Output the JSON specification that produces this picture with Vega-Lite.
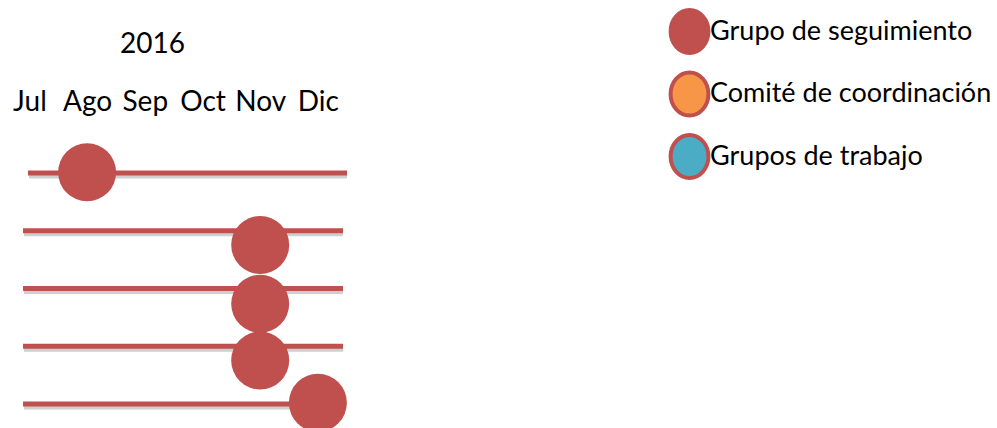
{
  "$schema": "https://vega.github.io/schema/vega-lite/v6.json",
  "autosize": {"type": "none"},
  "padding": {"left": 0, "top": 120, "right": 637, "bottom": 0},
  "width": 360,
  "height": 308,
  "background": "white",
  "config": {"view": {"stroke": null}, "font": "Lato"},
  "datasets": {
    "lineas": [
      {"fila": 1, "inicio": 6.975, "fin": 12.505},
      {"fila": 2, "inicio": 6.889, "fin": 12.436},
      {"fila": 3, "inicio": 6.889, "fin": 12.436},
      {"fila": 4, "inicio": 6.889, "fin": 12.436},
      {"fila": 5, "inicio": 6.889, "fin": 12.436}
    ],
    "hitos": [
      {"fila": 0.988, "mes": 8, "grupo": "Grupo de seguimiento"},
      {"fila": 2.246, "mes": 11, "grupo": "Grupo de seguimiento"},
      {"fila": 3.265, "mes": 11, "grupo": "Grupo de seguimiento"},
      {"fila": 4.246, "mes": 11, "grupo": "Grupo de seguimiento"},
      {"fila": 4.98, "mes": 12, "grupo": "Grupo de seguimiento"}
    ]
  },
  "layer": [
    {
      "data": {"name": "lineas"},
      "mark": {"type": "rule", "strokeWidth": 5, "color": "#888888", "opacity": 0.4, "yOffset": 3, "xOffset": 1},
      "encoding": {
        "x": {
          "field": "inicio", "type": "quantitative",
          "scale": {"domain": [6.49, 12.73], "nice": false, "zero": false},
          "axis": {
            "orient": "top",
            "values": [7, 8, 9, 10, 11, 12],
            "labelExpr": "['','','','','','','','Jul','Ago','Sep','Oct','Nov','Dic'][datum.value]",
            "ticks": false, "domain": false, "grid": false,
            "labelFontSize": 28, "labelColor": "black", "labelFont": "Lato",
            "labelPadding": 10, "labelBaseline": "alphabetic",
            "labelFlush": false, "labelOverlap": false,
            "title": "2016", "titleFontSize": 28, "titleFontWeight": "normal",
            "titleColor": "black", "titleFont": "Lato",
            "titleX": 152, "titleY": -68, "titleAlign": "center", "titleBaseline": "alphabetic"
          }
        },
        "x2": {"field": "fin"},
        "y": {
          "field": "fila", "type": "quantitative",
          "scale": {"domain": [0.082, 5.416], "nice": false, "zero": false, "reverse": true},
          "axis": null
        }
      }
    },
    {
      "data": {"name": "lineas"},
      "mark": {"type": "rule", "strokeWidth": 5, "color": "#C0504D"},
      "encoding": {
        "x": {"field": "inicio", "type": "quantitative"},
        "x2": {"field": "fin"},
        "y": {"field": "fila", "type": "quantitative"}
      }
    },
    {
      "data": {"name": "hitos"},
      "mark": {"type": "point", "filled": true, "shape": "circle", "size": 3364, "opacity": 1},
      "encoding": {
        "x": {"field": "mes", "type": "quantitative"},
        "y": {"field": "fila", "type": "quantitative"},
        "fill": {
          "field": "grupo", "type": "nominal",
          "scale": {
            "domain": ["Grupo de seguimiento", "Comité de coordinación", "Grupos de trabajo"],
            "range": ["#C0504D", "#F79646", "#4BACC6"]
          },
          "legend": {
            "orient": "none", "legendX": 666, "legendY": -112,
            "title": null, "padding": 0,
            "labelFontSize": 27, "labelFont": "Lato", "labelColor": "black", "labelLimit": 0,
            "symbolType": "M -0.88 0 A 0.88 1 0 1 0 0.88 0 A 0.88 1 0 1 0 -0.88 0 Z",
            "symbolSize": 1849, "symbolStrokeColor": "#C0504D", "symbolStrokeWidth": 4,
            "symbolOpacity": 1, "rowPadding": 3.5, "labelOffset": -3
          }
        }
      }
    }
  ]
}
